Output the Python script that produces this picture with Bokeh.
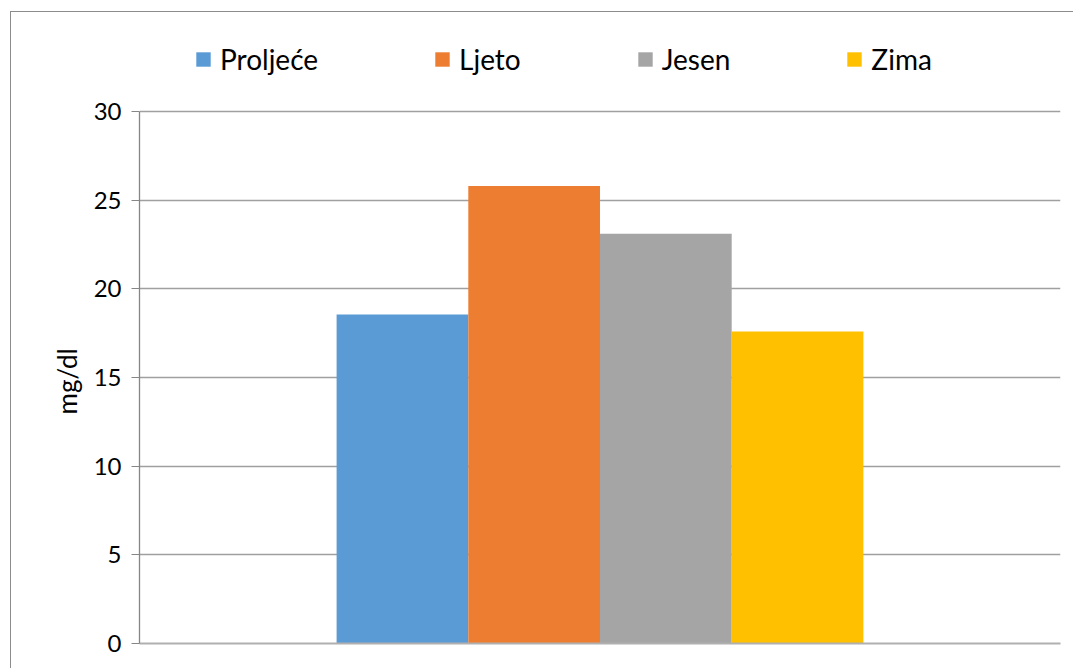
from bokeh.plotting import figure
from bokeh.models import Range1d, FactorRange, ColumnDataSource, Legend, LegendItem, FixedTicker, Title
from bokeh.transform import dodge
from bokeh.embed import file_html
from bokeh.resources import INLINE

seasons = ["Proljeće", "Ljeto", "Jesen", "Zima"]
values = [18.55, 25.8, 23.1, 17.6]
colors = ["#5B9BD5", "#ED7D31", "#A5A5A5", "#FFC000"]
group = ["grupa"]
yticks = [0, 5, 10, 15, 20, 25, 30]
y_label = "mg/dl"

FONT = "Lato"
# frame extends above the 30 line so the legend can sit inside it
Y_TOP = 30 * 631 / 532

p = figure(width=1063, height=657, x_range=FactorRange(factors=group), y_range=Range1d(0, Y_TOP),
           output_backend="svg", toolbar_location=None,
           min_border_left=128, min_border_right=14, min_border_top=0, min_border_bottom=26)
p.margin = (11, 0, 0, 10)
p.styles = {"border-left": "1px solid #8c8c8c", "border-top": "1px solid #8c8c8c"}
p.outline_line_color = None
p.background_fill_color = "white"
p.border_fill_color = "white"

bar_w = 0.143
renderers = []
for i, (s, v, c) in enumerate(zip(seasons, values, colors)):
    src = ColumnDataSource(dict(x=group, top=[v]))
    r = p.vbar(x=dodge("x", (i - 1.5) * bar_w, range=p.x_range), top="top", width=bar_w,
               source=src, fill_color=c, line_color=None)
    renderers.append(r)

# axes
p.yaxis.ticker = FixedTicker(ticks=yticks)
p.yaxis.bounds = (0, 30)
p.yaxis.axis_line_color = "#868686"
p.yaxis.axis_line_width = 1.3
p.yaxis.major_tick_line_color = "#868686"
p.yaxis.major_tick_out = 8
p.yaxis.major_tick_in = 0
p.yaxis.minor_tick_line_color = None
p.yaxis.major_label_text_font = FONT
p.yaxis.major_label_text_font_size = "24px"
p.yaxis.major_label_text_color = "black"
p.yaxis.major_label_standoff = 10

# y axis title, centred on the 0-30 span rather than on the taller frame
ytitle = Title(text=y_label, align="left", offset=229, text_font=FONT, text_font_size="26px",
               text_font_style="normal", text_color="black", standoff=16)
p.add_layout(ytitle, "left")

p.xaxis.axis_line_color = "#b0b0b0"
p.xaxis.axis_line_width = 2
p.xaxis.major_tick_line_color = None
p.xaxis.minor_tick_line_color = None
p.xaxis.major_label_text_color = None
p.xaxis.major_label_text_font_size = "1px"

p.xgrid.grid_line_color = None
p.ygrid.grid_line_color = "#a0a0a0"
p.ygrid.grid_line_width = 1.4
p.ygrid.bounds = (0, 30)
p.ygrid.ticker = FixedTicker(ticks=yticks)

legend = Legend(items=[LegendItem(label=s, renderers=[r]) for s, r in zip(seasons, renderers)],
                orientation="horizontal", location=(55, 567),
                glyph_width=18, glyph_height=18, label_standoff=8, spacing=115,
                padding=0, margin=0, border_line_color=None, background_fill_alpha=0,
                label_text_font=FONT, label_text_font_size="28px", label_text_color="black")
p.add_layout(legend, "center")

open("out.html", "w").write(file_html(p, INLINE))
